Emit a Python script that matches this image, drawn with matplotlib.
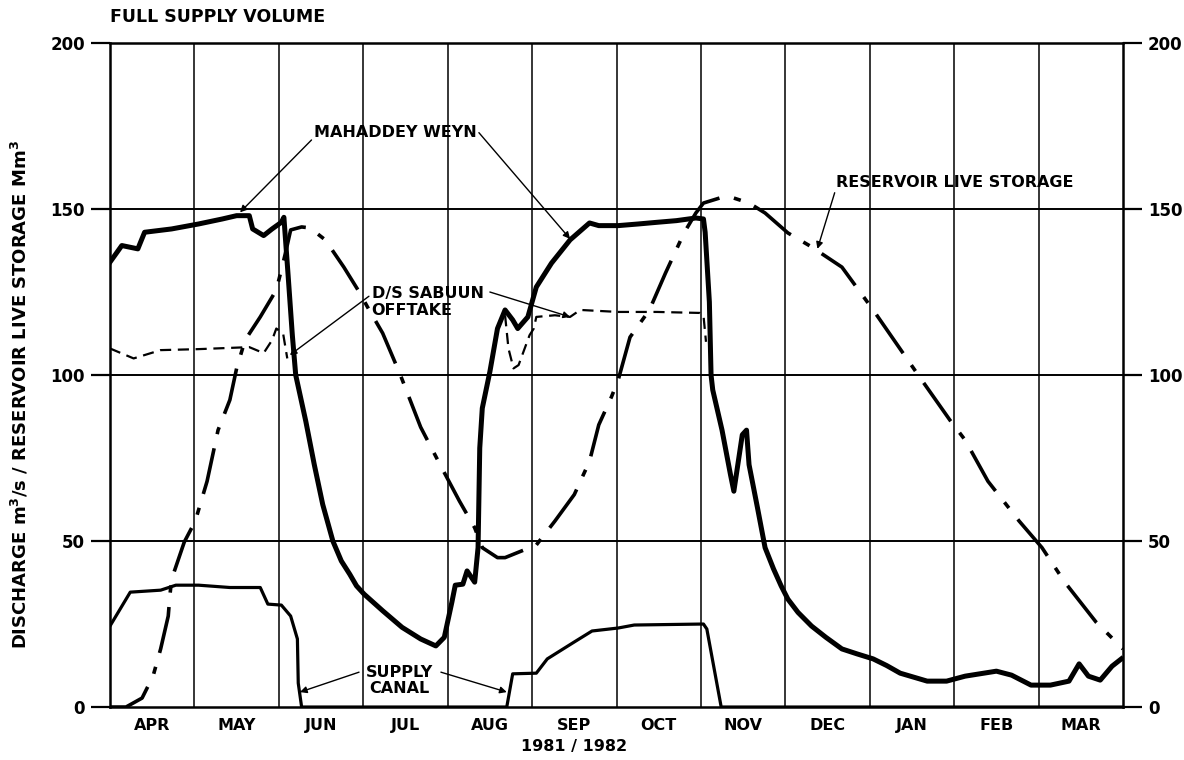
import matplotlib
matplotlib.use("Agg")
import matplotlib.pyplot as plt

# months counted from 1 April 1981 (0) to 1 April 1982 (12)
months = ["APR", "MAY", "JUN", "JUL", "AUG", "SEP", "OCT", "NOV", "DEC", "JAN", "FEB", "MAR"]

# Mahaddey Weyn discharge (m3/s)
mw_t = [0.00, 0.14, 0.33, 0.41, 0.73, 1.05, 1.33, 1.50, 1.65, 1.69, 1.82, 1.92, 2.03, 2.06,
        2.11, 2.16, 2.20, 2.32, 2.42, 2.52, 2.64, 2.74, 2.84, 2.92, 3.01, 3.23, 3.46, 3.68,
        3.86, 3.96, 4.05, 4.09, 4.18, 4.23, 4.32, 4.36, 4.38, 4.41, 4.50, 4.59, 4.68, 4.77,
        4.83, 4.95, 5.05, 5.23, 5.45, 5.68, 5.79, 6.02, 6.26, 6.48, 6.71, 6.94, 7.03, 7.05,
        7.10, 7.12, 7.14, 7.25, 7.35, 7.39, 7.49, 7.54, 7.57, 7.67, 7.76, 7.86, 7.95, 8.03,
        8.15, 8.31, 8.48, 8.67, 8.85, 9.04, 9.20, 9.36, 9.68, 9.91, 10.13, 10.50, 10.68,
        10.91, 11.14, 11.36, 11.48, 11.59, 11.73, 11.87, 11.98]
mw_q = [134, 139, 138, 143, 144, 145.5, 147, 148, 148, 144, 142, 144, 146, 147.5,
        130, 112, 100, 86, 73, 61, 50, 44, 40, 36.5, 34, 29, 24, 20.5,
        18.4, 21, 31.6, 36.7, 37, 41, 37.6, 48, 78, 90, 101, 114, 119.6, 116.6,
        114, 117.5, 126.5, 133.7, 140.7, 145.8, 145, 145, 145.5, 146, 146.5, 147.3, 147, 143,
        122, 100, 95.5, 83.4, 70, 65, 82, 83.4, 73, 60, 48, 41.6, 36.5, 32.5,
        28.5, 24.4, 21, 17.5, 16, 14.5, 12.5, 10.2, 7.8, 7.8, 9.3, 10.8, 9.6,
        6.6, 6.6, 7.8, 13, 9.3, 8.1, 12.3, 14.5]

# supply canal discharge (m3/s)
sc_t = [0.00, 0.24, 0.60, 0.78, 1.05, 1.42, 1.78, 1.87, 2.03, 2.14, 2.22, 2.23, 2.27,
        4.70, 4.77, 5.05, 5.18, 5.50, 5.71, 6.02, 6.21, 7.03, 7.07, 7.24, 12.0]
sc_q = [24.4, 34.6, 35.2, 36.7, 36.7, 36, 36, 31, 30.7, 27.4, 20.5, 7.2, 0,
        0, 10, 10.2, 14.5, 19.6, 22.9, 23.8, 24.7, 25, 23.5, 0, 0]

# D/S Sabuun offtake (m3/s), two visible stretches
ds1_t = [0.00, 0.28, 0.60, 1.05, 1.65, 1.82, 1.92, 1.97, 2.05, 2.10]
ds1_q = [108, 105, 107.5, 107.8, 108.4, 106.6, 110.5, 114, 112.6, 105]
ds2_t = [4.68, 4.72, 4.78, 4.84, 4.97, 5.02, 5.05, 5.27, 5.45, 5.57, 6.02, 6.48, 6.99, 7.03, 7.06]
ds2_q = [118, 108, 102, 103, 112, 114, 117.5, 118, 117.5, 119.6, 119, 119, 118.7, 118, 110]

# reservoir live storage (Mm3)
rs_t = [0.00, 0.19, 0.38, 0.51, 0.60, 0.69, 0.71, 0.73, 0.88, 1.01, 1.15, 1.28, 1.42,
        1.50, 1.60, 1.78, 1.97, 2.05, 2.09, 2.14, 2.27, 2.37, 2.55, 2.77, 2.96, 3.05,
        3.23, 3.44, 3.68, 3.91, 4.14, 4.32, 4.41, 4.59, 4.68, 5.05, 5.27, 5.50, 5.68,
        5.79, 5.94, 6.02, 6.16, 6.39, 6.58, 6.80, 6.94, 7.03, 7.22, 7.39, 7.57, 7.76,
        8.03, 8.31, 8.67, 9.04, 9.59, 9.95, 10.13, 10.40, 10.77, 11.04, 11.31, 11.68, 12.0]
rs_v = [0, 0, 2.7, 9.3, 17.5, 27.4, 33.7, 38.5, 49.7, 56, 68, 83.4, 92.5,
        102, 110.5, 117.5, 125.6, 133.7, 138, 143.7, 144.6, 144.3, 140.7, 132.5, 124.7, 120.5,
        112.6, 100, 84.3, 73, 62, 54, 48, 45, 45, 48.8, 56, 64, 74,
        85, 93.4, 98.5, 111.4, 119.6, 130.7, 142.8, 148.8, 151.8, 153.3, 153.3, 151.8, 148.8,
        142.8, 138.6, 132.5, 119.6, 99.4, 86.4, 80.4, 68, 56, 48, 37.6, 25.6, 17.5]

plt.rcParams['font.family'] = ['DejaVu Sans']
plt.rcParams['font.weight'] = 'bold'
plt.rcParams['axes.labelweight'] = 'bold'

fig = plt.figure(figsize=(11.84, 7.6), dpi=100)
ax = fig.add_axes([0.0929, 0.0697, 0.8556, 0.8737])

ax.set_xlim(0, 12)
ax.set_ylim(0, 200)

# grid
for m in range(1, 12):
    ax.axvline(m, color='black', lw=1.1, zorder=1)
for v in (50, 100, 150):
    ax.axhline(v, color='black', lw=1.4, zorder=1)

ax.plot(rs_t, rs_v, color='black', lw=2.6, linestyle=(0, (13, 4, 2, 4)), zorder=3)
ax.plot(ds1_t, ds1_q, color='black', lw=1.6, linestyle=(0, (5, 3)), zorder=3)
ax.plot(ds2_t, ds2_q, color='black', lw=1.6, linestyle=(0, (5, 3)), zorder=3)
ax.plot(sc_t, sc_q, color='black', lw=2.3, zorder=4)
ax.plot(mw_t, mw_q, color='black', lw=3.6, zorder=5, solid_joinstyle='round')

for s in ax.spines.values():
    s.set_linewidth(1.8)

ax.set_yticks([0, 50, 100, 150, 200])
ax.tick_params(axis='y', length=14, width=1.6, labelsize=12, left=True, right=True,
               labelleft=True, labelright=True, pad=4)
ax.set_xticks([m + 0.5 for m in range(12)])
ax.set_xticklabels(months, fontsize=11.5)
ax.tick_params(axis='x', length=0, pad=8)

ax.set_ylabel("DISCHARGE m$^3$/s / RESERVOIR LIVE STORAGE Mm$^3$", fontsize=13)
ax.yaxis.set_label_coords(-0.078, 0.47)
ax.text(5.5, -9.5, "1981 / 1982", ha='center', va='top', fontsize=11.5)
ax.text(0.0, 1.025, "FULL SUPPLY VOLUME", transform=ax.transAxes, ha='left', va='bottom',
        fontsize=12.5)

arrow = dict(arrowstyle='-|>', color='black', lw=1.0, mutation_scale=10, shrinkA=0, shrinkB=0)

ax.annotate("MAHADDEY WEYN", xy=(1.54, 149), xytext=(2.42, 173), fontsize=11.5,
            ha='left', va='center', arrowprops=dict(arrow, relpos=(0, 0.2)))
ax.annotate("", xy=(5.45, 141), xytext=(4.37, 173), arrowprops=arrow)
ax.annotate("D/S SABUUN\nOFFTAKE", xy=(2.13, 106), xytext=(3.1, 122), fontsize=11.5,
            ha='left', va='center', linespacing=1.1, arrowprops=dict(arrow, relpos=(0, 0.75)))
ax.annotate("", xy=(5.45, 117.5), xytext=(4.5, 125), arrowprops=arrow)
ax.annotate("RESERVOIR LIVE STORAGE", xy=(8.38, 138), xytext=(8.6, 158), fontsize=11.5,
            ha='left', va='center', arrowprops=dict(arrow, relpos=(0, 0.1)))
ax.text(3.43, 8, "SUPPLY\nCANAL", fontsize=11.5, ha='center', va='center', linespacing=1.1)
ax.annotate("", xy=(2.25, 4.5), xytext=(2.95, 10.5), arrowprops=arrow)
ax.annotate("", xy=(4.70, 4.5), xytext=(3.92, 10.5), arrowprops=arrow)

fig.savefig("out.png", dpi=100)
